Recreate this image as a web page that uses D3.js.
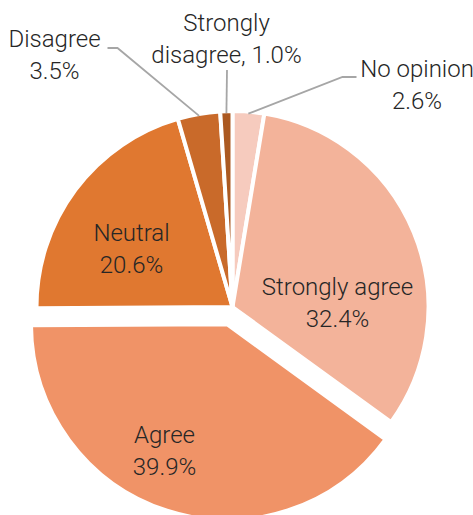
<!DOCTYPE html>
<html>
<head>
<meta charset="utf-8">
<script src="https://cdn.jsdelivr.net/npm/d3@7"></script>
<style>
  html, body { margin: 0; padding: 0; background: #fff; }
  svg { display: block; }
  text { font-family: Roboto, "Open Sans", sans-serif; font-weight: 300; fill: #262626; }
</style>
</head>
<body>
<svg id="chart" width="473" height="515"></svg>
<script>
// Survey responses, clockwise from 12 o'clock
const categories = ["No opinion", "Strongly agree", "Agree", "Neutral", "Disagree", "Strongly disagree"];
const shares = [2.6, 32.4, 39.9, 20.6, 3.5, 1.0];
const colors = ["#F6CBBE", "#F3B39A", "#F09367", "#E07830", "#C96A2A", "#AB5921"];
const exploded = ["Agree"];

const width = 473, height = 515;
const cx = 232.5, cy = 307;
const radius = 196;
const explodeDist = 18;
const lineGap = 31.5;
const fontSize = 24;

const svg = d3.select("#chart");
const g = svg.append("g").attr("transform", `translate(${cx},${cy})`);

const data = categories.map((c, i) => ({ name: c, value: shares[i], color: colors[i] }));

const pie = d3.pie().sort(null).value(d => d.value).startAngle(0).endAngle(2 * Math.PI);
const arc = d3.arc().innerRadius(0).outerRadius(radius);
const arcs = pie(data);

function offset(a) {
  if (!exploded.includes(a.data.name)) return [0, 0];
  const mid = (a.startAngle + a.endAngle) / 2;
  return [Math.sin(mid) * explodeDist, -Math.cos(mid) * explodeDist];
}

g.selectAll("path.slice")
  .data(arcs)
  .join("path")
  .attr("class", "slice")
  .attr("d", arc)
  .attr("transform", d => `translate(${offset(d)})`)
  .attr("fill", d => d.data.color)
  .attr("stroke", "#fff")
  .attr("stroke-width", 4)
  .attr("stroke-linejoin", "miter");

// Label placement (relative to the pie centre) and leader lines for the thin slices
const labelLayout = {
  "No opinion":        { x: 184.5, y: -230, lines: ["No opinion", "2.6%"] },
  "Strongly agree":    { x: 105, y: -12,  lines: ["Strongly agree", "32.4%"] },
  "Agree":             { x: -68, y: 136,  lines: ["Agree", "39.9%"] },
  "Neutral":           { x: -101, y: -66, lines: ["Neutral", "20.6%"] },
  "Disagree":          { x: -178, y: -260, lines: ["Disagree", "3.5%"] },
  "Strongly disagree": { x: -6,  y: -276, lines: ["Strongly", "disagree, 1.0%"] }
};

const leaders = {
  "No opinion":        [[124, -230], [110, -230]],
  "Disagree":          [[-125, -259], [-115, -259]],
  "Strongly disagree": [[-5.5, -237]]
};

arcs.forEach(a => {
  const pts = leaders[a.data.name];
  if (!pts) return;
  const mid = (a.startAngle + a.endAngle) / 2;
  const r = radius - 2;
  const edge = [Math.sin(mid) * r, -Math.cos(mid) * r];
  const all = pts.concat([edge]);
  g.append("path")
    .attr("d", d3.line()(all))
    .attr("fill", "none")
    .attr("stroke", "#A6A6A6")
    .attr("stroke-width", 1.8);
});

arcs.forEach(a => {
  const L = labelLayout[a.data.name];
  const t = g.append("text")
    .attr("text-anchor", "middle")
    .attr("font-size", fontSize);
  L.lines.forEach((line, i) => {
    t.append("tspan")
      .attr("x", L.x)
      .attr("y", L.y + i * lineGap)
      .text(line);
  });
});
</script>
</body>
</html>
